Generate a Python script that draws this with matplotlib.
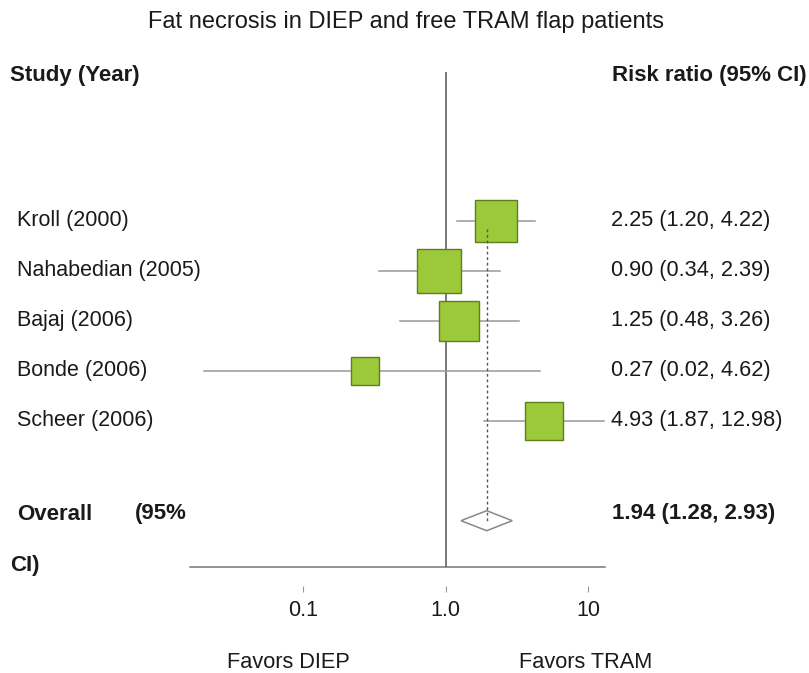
import matplotlib
matplotlib.use("Agg")
import matplotlib.pyplot as plt
import matplotlib.transforms as mtransforms
from matplotlib.ticker import FixedLocator, NullLocator

plt.rcParams['font.family'] = ['Liberation Sans', 'DejaVu Sans']

# data
studies = ["Kroll (2000)", "Nahabedian (2005)", "Bajaj (2006)", "Bonde (2006)", "Scheer (2006)"]
rr = [2.25, 0.90, 1.25, 0.27, 4.93]
lo = [1.20, 0.34, 0.48, 0.02, 1.87]
hi = [4.22, 2.39, 3.26, 4.62, 12.98]
weights = [23.2, 26.6, 21.0, 10.3, 19.0]   # relative study weight (box area)
overall_rr = 1.94
overall_lo = 1.28
overall_hi = 2.93
tick_vals = [0.1, 1.0, 10]
tick_labels = ["0.1", "1.0", "10"]

W, H = 809, 673
fig = plt.figure(figsize=(W / 100, H / 100), dpi=100)
ax = fig.add_axes([190 / W, (H - 567) / H, 415 / W, 495 / H])
ax.set_xscale('log')
ax.set_xlim(0.01606, 13.12)
ax.set_ylim(6.926, -2.974)

for s in ['top', 'right', 'left']:
    ax.spines[s].set_visible(False)
ax.spines['bottom'].set_position(('outward', 18))
ax.spines['bottom'].set_visible(False)
ax.set_yticks([])
ax.xaxis.set_major_locator(FixedLocator(tick_vals))
ax.xaxis.set_minor_locator(NullLocator())
ax.set_xticklabels(tick_labels)
ax.tick_params(axis='x', direction='in', length=4.5, width=0.8, color='#999999',
               pad=5.5, labelsize=15.5, labelcolor='#1a1a1a')

# axis line and line of no effect
ax.axhline(6.926, color='#777777', lw=1.1, clip_on=False)
ax.axvline(1.0, color='#555555', lw=1.1)

box_face = '#9cc93a'
box_edge = '#5f7d1c'
txt = '#1a1a1a'

rows = list(range(len(studies)))
for r, est, l, h, w in zip(rows, rr, lo, hi, weights):
    ax.plot([l, h], [r, r], color='#999999', lw=1.1, zorder=2)
    side = 87 * (w / 100) ** 0.5
    ax.plot([est], [r], marker='s', ms=side * 0.72, mfc=box_face, mec=box_edge,
            mew=1.0, ls='none', zorder=3)

# pooled estimate
ov_row = 6
ax.plot([overall_rr, overall_rr], [0.16, ov_row], color='#555555', lw=1.0,
        ls=(0, (2, 2)), zorder=4)
dh = 0.2
ax.fill([overall_lo, overall_rr, overall_hi, overall_rr],
        [ov_row, ov_row - dh, ov_row, ov_row + dh],
        facecolor='white', edgecolor='#888888', lw=1.1, zorder=3)

# text
tr = mtransforms.blended_transform_factory(fig.transFigure, ax.transData)
for r, name, est, l, h in zip(rows, studies, rr, lo, hi):
    ax.text(17 / W, r, name, transform=tr, ha='left', va='center', fontsize=15.5, color=txt)
    ax.text(611 / W, r, f"{est:.2f} ({l:.2f}, {h:.2f})", transform=tr,
            ha='left', va='center', fontsize=15.7, color=txt)

fig.text(406 / W, 1 - 22 / H, "Fat necrosis in DIEP and free TRAM flap patients",
         ha='center', va='center', fontsize=17, color=txt)
fig.text(10 / W, 1 - 76 / H, "Study (Year)", ha='left', va='center',
         fontsize=16, fontweight='bold', color=txt)
fig.text(612 / W, 1 - 76 / H, "Risk ratio (95% CI)", ha='left', va='center',
         fontsize=16, fontweight='bold', color=txt)
fig.text(17 / W, 1 - 514 / H, "Overall", ha='left', va='center',
         fontsize=16, fontweight='bold', color=txt)
fig.text(135 / W, 1 - 514 / H, "(95%", ha='left', va='center',
         fontsize=16, fontweight='bold', color=txt)
fig.text(10 / W, 1 - 566 / H, "CI)", ha='left', va='center',
         fontsize=16, fontweight='bold', color=txt)
fig.text(612 / W, 1 - 514 / H,
         f"{overall_rr:.2f} ({overall_lo:.2f}, {overall_hi:.2f})",
         ha='left', va='center', fontsize=16, fontweight='bold', color=txt)
fig.text(288 / W, 1 - 663 / H, "Favors DIEP", ha='center', va='center',
         fontsize=15.7, color=txt)
fig.text(586 / W, 1 - 663 / H, "Favors TRAM", ha='center', va='center',
         fontsize=15.7, color=txt)

fig.savefig("out.png", dpi=100)
